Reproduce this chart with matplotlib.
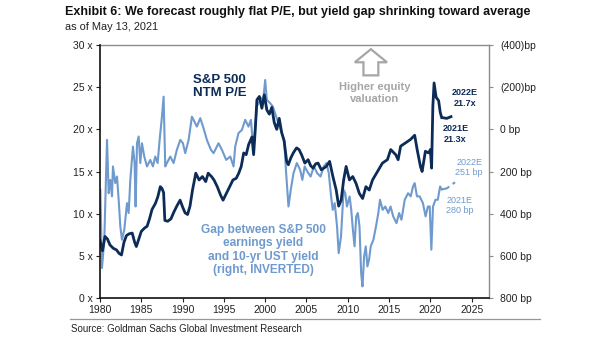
import matplotlib
matplotlib.use("Agg")
import matplotlib.pyplot as plt
from matplotlib.patches import FancyArrow

plt.rcParams['font.family'] = ['Liberation Sans', 'DejaVu Sans']

NAVY = '#0d2b57'
LIGHT = '#6f9acd'
GREY = '#a6a6a6'

# S&P 500 NTM P/E (left axis)
pe_years = [1980.0, 1980.3, 1980.6, 1980.9, 1981.2, 1981.6, 1982.0, 1982.3, 1982.6, 1982.9,
            1983.2, 1983.5, 1983.9, 1984.2, 1984.4, 1984.7, 1985.0, 1985.4, 1985.7, 1986.0,
            1986.3, 1986.7, 1987.0, 1987.3, 1987.5, 1987.7, 1987.85, 1988.2, 1988.6, 1988.9,
            1989.3, 1989.7, 1990.0, 1990.3, 1990.6, 1990.9, 1991.2, 1991.6, 1992.0, 1992.4,
            1992.8, 1993.1, 1993.5, 1993.8, 1994.2, 1994.6, 1994.9, 1995.3, 1995.7, 1996.1,
            1996.5, 1996.8, 1997.1, 1997.4, 1997.7, 1998.0, 1998.4, 1998.6, 1998.8, 1999.0,
            1999.3, 1999.6, 1999.9, 2000.2, 2000.5, 2000.8, 2001.1, 2001.4, 2001.7, 2002.0,
            2002.3, 2002.6, 2002.8, 2003.1, 2003.4, 2003.8, 2004.1, 2004.4, 2004.8, 2005.2,
            2005.5, 2005.8, 2006.1, 2006.4, 2006.8, 2007.1, 2007.4, 2007.8, 2008.2, 2008.6,
            2008.9, 2009.2, 2009.5, 2009.8, 2010.2, 2010.6, 2011.0, 2011.4, 2011.8, 2012.2,
            2012.6, 2013.0, 2013.6, 2014.2, 2014.8, 2015.2, 2015.8, 2016.1, 2016.4, 2017.0,
            2017.6, 2018.1, 2018.4, 2018.8, 2019.0, 2019.4, 2019.8, 2020.0, 2020.15, 2020.3,
            2020.45, 2020.7, 2021.0, 2021.2, 2021.37]
pe_values = [6.8, 5.6, 7.3, 7.0, 6.3, 5.9, 5.7, 5.3, 5.1, 6.6,
             7.4, 7.6, 7.7, 6.6, 6.1, 7.0, 7.9, 8.3, 8.5, 9.4,
             10.5, 11.2, 12.0, 13.2, 13.0, 12.5, 9.2, 9.1, 9.4, 10.1,
             10.9, 11.6, 10.8, 10.1, 9.9, 10.9, 12.8, 14.8, 14.0, 14.4,
             13.8, 14.8, 14.4, 14.0, 13.2, 12.2, 11.6, 12.4, 13.2, 14.0,
             14.2, 14.8, 15.6, 17.2, 17.0, 18.2, 19.1, 17.0, 20.0, 23.5,
             23.9, 22.5, 24.1, 22.3, 21.8, 22.6, 20.8, 20.0, 21.3, 19.6,
             18.6, 16.2, 15.8, 16.6, 17.2, 17.8, 17.6, 17.0, 16.0, 16.4,
             15.7, 15.4, 15.9, 16.0, 15.2, 15.4, 15.6, 16.2, 14.4, 12.8,
             10.9, 11.6, 14.0, 15.6, 14.0, 14.4, 13.6, 12.4, 11.8, 13.2,
             12.8, 14.0, 15.0, 16.0, 16.4, 17.6, 17.0, 16.4, 18.0, 18.4,
             18.8, 19.3, 17.6, 15.6, 15.0, 17.4, 17.2, 17.6, 15.4, 22.7,
             25.5, 23.8, 23.4, 22.0, 21.4]
pe_fcst_years = [2021.37, 2021.99, 2022.99]
pe_fcst_values = [21.4, 21.3, 21.7]

# Earnings yield minus 10-yr UST yield, bp (right axis, inverted)
gap_years = [1980.04, 1980.24, 1980.52, 1980.85, 1981.05, 1981.25, 1981.45, 1981.57, 1981.85, 1982.06,
             1982.26, 1982.46, 1982.66, 1982.94, 1983.27, 1983.47, 1983.67, 1983.99, 1984.19, 1984.31,
             1984.48, 1984.68, 1984.88, 1985.08, 1985.36, 1985.69, 1986.09, 1986.41, 1986.69, 1986.98,
             1987.22, 1987.5, 1987.7, 1987.9, 1988.1, 1988.51, 1988.91, 1989.31, 1989.72, 1990.04,
             1990.32, 1990.73, 1991.13, 1991.33, 1991.73, 1992.14, 1992.54, 1992.94, 1993.43, 1993.75,
             1994.35, 1994.76, 1995.28, 1995.77, 1996.17, 1996.37, 1996.77, 1997.18, 1997.58, 1997.98,
             1998.27, 1998.59, 1998.99, 1999.4, 1999.8, 2000.0, 2000.2, 2000.6, 2000.93, 2001.33,
             2001.61, 2002.02, 2002.3, 2002.54, 2002.82, 2003.1, 2003.43, 2003.83, 2004.23, 2004.5,
             2004.78, 2005.1, 2005.5, 2005.9, 2006.3, 2006.7, 2007.1, 2007.42, 2007.7, 2007.98,
             2008.18, 2008.42, 2008.7, 2008.9, 2009.18, 2009.5, 2009.7, 2009.9, 2010.22, 2010.42,
             2010.62, 2010.82, 2011.02, 2011.22, 2011.42, 2011.62, 2011.78, 2011.98, 2012.18, 2012.38,
             2012.58, 2012.78, 2013.1, 2013.42, 2013.7, 2013.9, 2014.22, 2014.54, 2014.9, 2015.18,
             2015.5, 2015.9, 2016.22, 2016.5, 2016.9, 2017.3, 2017.62, 2017.9, 2018.1, 2018.38,
             2018.7, 2019.1, 2019.42, 2019.7, 2019.92, 2020.12, 2020.32, 2020.62, 2020.9, 2021.18,
             2021.37]
gap_values = [287, 658, 524, 50, 303, 240, 318, 176, 255, 224,
              334, 460, 524, 476, 350, 397, 240, 82, 160, 366,
              66, 34, 160, 66, 129, 176, 145, 176, 129, 160,
              50, -60, -155, 176, 160, 129, 160, 97, 50, 66,
              113, 50, -60, -45, -13, -53, -5, 50, 97, 113,
              66, 97, 145, 129, 176, 82, 18, 3, -45, -13,
              -45, 97, -108, -140, -155, -234, -140, -124, -108, -60,
              -29, 18, 50, 208, 366, 287, 208, 160, 192, 240,
              176, 200, 224, 176, 208, 224, 176, 160, 208, 318,
              382, 350, 460, 587, 508, 287, 303, 366, 318, 382,
              476, 555, 413, 397, 460, 682, 745, 603, 555, 650,
              618, 555, 524, 460, 397, 334, 382, 366, 397, 366,
              413, 445, 397, 429, 334, 303, 318, 271, 255, 318,
              318, 350, 413, 366, 366, 571, 366, 334, 334, 271,
              285]
gap_fcst_years = [2021.37, 2021.99, 2022.99]
gap_fcst_values = [285, 280, 251]

pe_ticks = [0, 5, 10, 15, 20, 25, 30]
bp_ticks = [-400, -200, 0, 200, 400, 600, 800]
year_ticks = [1980, 1985, 1990, 1995, 2000, 2005, 2010, 2015, 2020, 2025]


def bp_label(v):
    return '(%d)bp' % -v if v < 0 else '%d bp' % v


fig = plt.figure(figsize=(6.05, 3.41), dpi=100)
ax = fig.add_axes([100 / 605, 1 - 298 / 341, 389 / 605, 253 / 341])
ax2 = ax.twinx()

ax2.plot(gap_years, gap_values, color=LIGHT, lw=1.5, solid_joinstyle='round')
ax2.plot(gap_fcst_years, gap_fcst_values, color=LIGHT, lw=1.5, dashes=(4, 2))
ax.plot(pe_years, pe_values, color=NAVY, lw=2.0, solid_joinstyle='round')
ax.plot(pe_fcst_years, pe_fcst_values, color=NAVY, lw=2.0, dashes=(4, 2))

# keep the P/E line above the yield-gap line
ax.set_zorder(ax2.get_zorder() + 1)
ax.patch.set_visible(False)

ax.set_xlim(1980, 2027.1)
ax.set_ylim(0, 30)
ax2.set_ylim(800, -400)

ax.set_xticks(year_ticks)
ax.set_yticks(pe_ticks)
ax.set_yticklabels(['%d x' % v for v in pe_ticks])
ax2.set_yticks(bp_ticks)
ax2.set_yticklabels([bp_label(v) for v in bp_ticks])

for a in (ax, ax2):
    a.tick_params(labelsize=7.5, length=3, width=0.8, pad=2, colors='#222222')
    for s in a.spines.values():
        s.set_visible(False)
ax.spines['left'].set_visible(True)
ax.spines['bottom'].set_visible(True)
ax.spines['left'].set_color('#111111')
ax.spines['bottom'].set_color('#111111')
ax.spines['left'].set_linewidth(1.2)
ax.spines['bottom'].set_linewidth(1.2)
ax2.spines['right'].set_visible(True)
ax2.spines['top'].set_visible(True)
ax2.spines['right'].set_color('#8c8c8c')
ax2.spines['top'].set_color('#8c8c8c')
ax2.spines['right'].set_linewidth(1.0)
ax2.spines['top'].set_linewidth(1.0)
ax2.tick_params(axis='y', colors='#8c8c8c', labelcolor='#222222', pad=5)

# annotations
ax.text(1991.3, 25.1, 'S&P 500\nNTM P/E', color=NAVY, fontsize=9.5, fontweight='bold',
        ha='left', va='center', linespacing=1.05)
ax.text(1999.8, 5.7, 'Gap between S&P 500\nearnings yield\nand 10-yr UST yield\n(right, INVERTED)',
        color=LIGHT, fontsize=8.6, fontweight='bold', ha='center', va='center', linespacing=1.15)
ax.add_patch(FancyArrow(2012.8, 26.4, 0, 1.55, width=1.8, head_width=3.9, head_length=1.55,
                        length_includes_head=False, fill=False, ec=GREY, lw=1.6))
ax.text(2013.3, 24.3, 'Higher equity\nvaluation', color=GREY, fontsize=8, fontweight='bold',
        ha='center', va='center', linespacing=1.15)
ax.text(2024.2, 23.7, '2022E\n21.7x', color=NAVY, fontsize=6.5, fontweight='bold',
        ha='center', va='center', linespacing=1.2)
ax.text(2023.05, 19.45, '2021E\n21.3x', color=NAVY, fontsize=6.5, fontweight='bold',
        ha='center', va='center', linespacing=1.2)
ax2.text(2024.7, 180, '2022E\n251 bp', color=LIGHT, fontsize=6.5,
         ha='center', va='center', linespacing=1.2)
ax2.text(2023.5, 360, '2021E\n280 bp', color=LIGHT, fontsize=6.5,
         ha='center', va='center', linespacing=1.2)

fig.text(65 / 605, 1 - 11.5 / 341, 'Exhibit 6: We forecast roughly flat P/E, but yield gap shrinking toward average',
         fontsize=9.0, fontweight='bold', ha='left', va='center', color='#111111')
fig.text(65 / 605, 1 - 27 / 341, 'as of May 13, 2021', fontsize=7.9, ha='left', va='center',
         color='#222222')
fig.add_artist(plt.Line2D([70 / 605, 540 / 605], [1 - 319 / 341, 1 - 319 / 341],
                          color='#8c9aa8', lw=0.9))
fig.text(71 / 605, 1 - 329 / 341, 'Source: Goldman Sachs Global Investment Research',
         fontsize=7.0, ha='left', va='center', color='#222222')

fig.savefig('out.png', dpi=100)
